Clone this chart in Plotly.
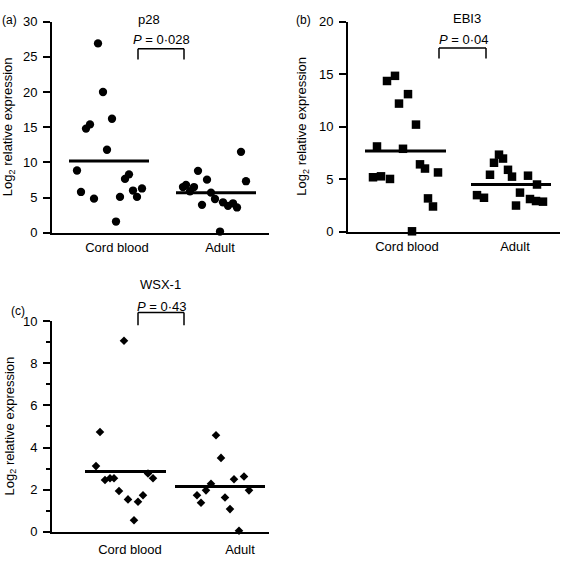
import plotly.graph_objects as go

# ---------------- data ----------------
categories = ["Cord blood", "Adult"]

p28_cord = [26.9, 20.0, 14.8, 15.4, 16.2, 11.8, 8.85, 5.8, 4.85, 5.1, 1.6, 7.65, 8.3, 6.0, 5.1, 6.3]
p28_adult = [6.5, 6.8, 5.9, 6.5, 8.8, 7.55, 3.97, 5.7, 4.8, 4.33, 3.83, 4.19, 3.6, 11.5, 7.33, 0.18]
p28_means = [10.2, 5.7]
p28_pvalue = "0·028"

ebi3_cord = [14.35, 14.84, 12.2, 13.1, 10.2, 8.12, 7.9, 5.19, 5.28, 5.03, 6.42, 6.02, 5.65, 3.18, 2.41, 0.05]
ebi3_adult = [7.34, 6.97, 6.57, 5.43, 5.9, 5.25, 5.34, 4.5, 3.73, 3.12, 2.93, 2.87, 2.5, 3.49, 3.24]
ebi3_means = [7.7, 4.5]
ebi3_pvalue = "0·04"

wsx1_cord = [9.07, 4.74, 3.12, 2.46, 2.54, 2.54, 1.94, 1.54, 1.43, 1.74, 0.55, 2.77, 2.54]
wsx1_adult = [4.58, 3.51, 1.74, 1.38, 1.97, 2.28, 1.63, 1.08, 2.5, 2.63, 1.97, 0.05]
wsx1_means = [2.86, 2.15]
wsx1_pvalue = "0·43"

# horizontal scatter offsets of the dots (pixels from the group centre)
p28_cord_jitter = [-19, -14, -31, -27, -5, -10, -40, -36, -23, 3, -1, 8, 12, 16, 20, 25]
p28_adult_jitter = [-37, -34, -30, -26, -22, -13, -18, -9, -5, 3, 8, 13, 17, 21, 26, 0]
ebi3_cord_jitter = [-20, -12, -8, 1, 9, -30, -4, -34, -26, -17, 13, 18, 31, 21, 26, 5]
ebi3_adult_jitter = [-16, -12, -21, -25, -7, -3, 13, 22, 5, 15, 21, 28, 1, -38, -31]
wsx1_cord_jitter = [-6, -30, -34, -25, -20, -16, -11, -2, 8, 13, 4, 18, 23]
wsx1_adult_jitter = [-24, -19, -43, -39, -34, -29, -15, -10, -6, 4, 9, -1]

# ---------------- layout (pixel geometry) ----------------
W, H = 566, 561
FONT = "Liberation Sans, Arial, Helvetica, sans-serif"


def px(x):
    return x / W


def py(y):
    return 1 - y / H


panels = [
    dict(name="p28", tag="(a)", vals=(p28_cord, p28_adult), jit=(p28_cord_jitter, p28_adult_jitter),
         means=p28_means, pval=p28_pvalue, symbol="circle", size=8.3,
         box=(52, 269, 15, 232), ymax=30, dtick=5, minor=False,
         centers=(117, 220), lines=((69, 149), (176, 256)), xstandoff=2,
         title_xy=(149, 13), p_xy=(161, 33), bracket=(138, 184, 43, 54),
         tag_xy=(9, 13), ylab_x=8),
    dict(name="EBI3", tag="(b)", vals=(ebi3_cord, ebi3_adult), jit=(ebi3_cord_jitter, ebi3_adult_jitter),
         means=ebi3_means, pval=ebi3_pvalue, symbol="square", size=8.5,
         box=(348, 560, 15, 231), ymax=20, dtick=5, minor=False,
         centers=(407, 515), lines=((365, 446), (471, 551)), xstandoff=2,
         title_xy=(467, 12), p_xy=(464, 33), bracket=(439, 486, 42, 53),
         tag_xy=(303, 13), ylab_x=303),
    dict(name="WSX-1", tag="(c)", vals=(wsx1_cord, wsx1_adult), jit=(wsx1_cord_jitter, wsx1_adult_jitter),
         means=wsx1_means, pval=wsx1_pvalue, symbol="diamond", size=6.6,
         box=(52, 269, 322.7, 539.3), ymax=10, dtick=2, minor=True,
         centers=(130, 240), lines=((85, 166), (175, 265)), xstandoff=5,
         title_xy=(160, 285), p_xy=(162, 308), bracket=(138, 184, 314, 327),
         tag_xy=(18, 312), ylab_x=10),
]

fig = go.Figure()
annotations = []
shapes = []

for i, p in enumerate(panels):
    n = "" if i == 0 else str(i + 1)
    xa, ya = "x" + n, "y" + n
    x0, x1, ytop, ybot = p["box"]

    for g in range(2):
        xs = [p["centers"][g] + j for j in p["jit"][g]]
        fig.add_trace(go.Scatter(
            x=xs, y=p["vals"][g], mode="markers", xaxis=xa, yaxis=ya,
            marker=dict(symbol=p["symbol"], size=p["size"], color="black", line=dict(width=0)),
            cliponaxis=False, showlegend=False, hoverinfo="y"))
        lx0, lx1 = p["lines"][g]
        fig.add_trace(go.Scatter(
            x=[lx0, lx1], y=[p["means"][g]] * 2, mode="lines", xaxis=xa, yaxis=ya,
            line=dict(color="black", width=3), cliponaxis=False, showlegend=False, hoverinfo="skip"))

    xaxis = dict(domain=[px(x0), px(x1)], range=[x0, x1], anchor=ya,
                 showline=True, linewidth=2, linecolor="black", showgrid=False, zeroline=False,
                 tickvals=list(p["centers"]), ticktext=categories, ticks="",
                 ticklabelstandoff=p["xstandoff"],
                 tickfont=dict(family=FONT, size=13, color="black"), fixedrange=True)
    yaxis = dict(domain=[py(ybot), py(ytop)], range=[0, p["ymax"]], anchor=xa,
                 showline=True, linewidth=2, linecolor="black", showgrid=False, zeroline=False,
                 tick0=0, dtick=p["dtick"], ticks="outside", ticklen=7, tickwidth=2, tickcolor="black",
                 ticklabelstandoff=3,
                 tickfont=dict(family=FONT, size=13, color="black"), fixedrange=True)
    if p["minor"]:
        yaxis["minor"] = dict(dtick=1, ticks="outside", ticklen=4, tickwidth=2, tickcolor="black", showgrid=False)
    fig.update_layout(**{"xaxis" + n: xaxis, "yaxis" + n: yaxis})

    # title, p-value, panel tag, y label
    annotations.append(dict(text=p["name"], x=px(p["title_xy"][0]), y=py(p["title_xy"][1]),
                            xref="paper", yref="paper", showarrow=False, xanchor="center", yanchor="middle",
                            font=dict(family=FONT, size=13, color="black")))
    annotations.append(dict(text="<i>P</i> = " + p["pval"], x=px(p["p_xy"][0]), y=py(p["p_xy"][1]),
                            xref="paper", yref="paper", showarrow=False, xanchor="center", yanchor="middle",
                            font=dict(family=FONT, size=13, color="black")))
    annotations.append(dict(text=p["tag"], x=px(p["tag_xy"][0]), y=py(p["tag_xy"][1]),
                            xref="paper", yref="paper", showarrow=False, xanchor="center", yanchor="middle",
                            font=dict(family=FONT, size=12, color="black")))
    annotations.append(dict(text="Log<sub>2</sub> relative expression", textangle=-90,
                            x=px(p["ylab_x"]), y=py((ytop + ybot) / 2),
                            xref="paper", yref="paper", showarrow=False, xanchor="center", yanchor="middle",
                            font=dict(family=FONT, size=13, color="black")))
    bx0, bx1, bt, bb = p["bracket"]
    for (sx0, sy0, sx1, sy1) in [(bx0, bb, bx0, bt), (bx0, bt, bx1, bt), (bx1, bt, bx1, bb)]:
        shapes.append(dict(type="line", xref="paper", yref="paper",
                           x0=px(sx0), y0=py(sy0), x1=px(sx1), y1=py(sy1),
                           line=dict(color="black", width=1.5)))

fig.update_layout(width=W, height=H, margin=dict(l=0, r=0, t=0, b=0),
                  paper_bgcolor="white", plot_bgcolor="white",
                  annotations=annotations, shapes=shapes, showlegend=False)

fig.write_html("out.html", config=dict(displayModeBar=False),
               post_script="document.body.style.margin='0';document.body.style.overflow='hidden';")
